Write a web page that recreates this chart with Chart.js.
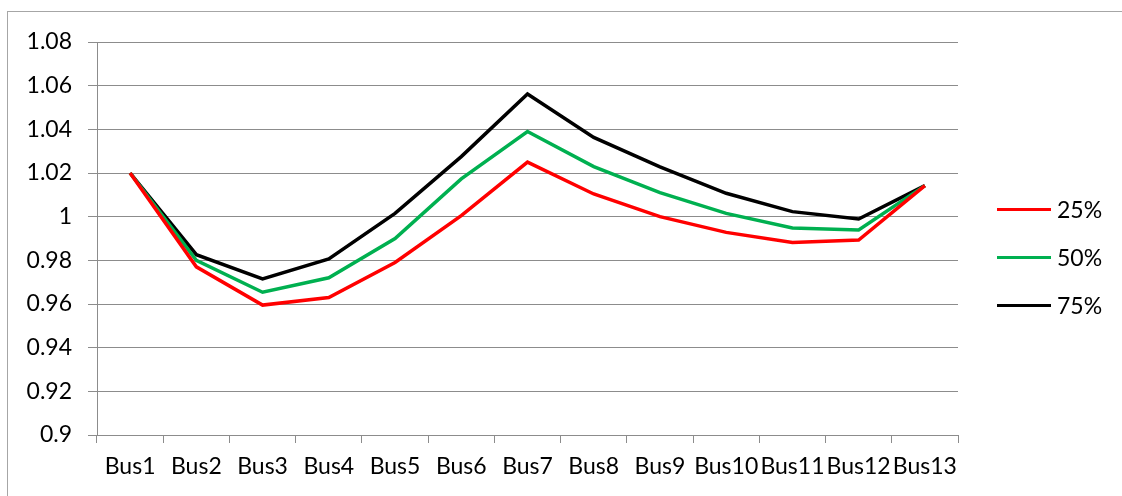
<!DOCTYPE html>
<html>
<head>
<meta charset="utf-8">
<script src="https://cdn.jsdelivr.net/npm/chart.js@4/dist/chart.umd.min.js"></script>
<style>
  html, body { margin: 0; padding: 0; background: #fff; }
  #wrap { position: relative; width: 1122px; height: 496px; overflow: hidden; }
  #frame { position: absolute; left: 7px; top: 11px; width: 1200px; height: 600px; border: 1px solid #a6a6a6; box-sizing: border-box; }
  #chart { position: absolute; left: 0; top: 0; }
  #legend { position: absolute; left: 997px; top: 185px; font-family: Lato, Roboto, sans-serif; font-size: 23px; color: #000; }
  .item { display: flex; align-items: center; height: 48px; }
  .swatch { width: 54px; height: 3px; margin-right: 6px; }
</style>
</head>
<body>
<div id="wrap">
  <div id="frame"></div>
  <canvas id="chart" width="1122" height="496"></canvas>
  <div id="legend"></div>
</div>
<script>
// categories and series
const buses = ['Bus1', 'Bus2', 'Bus3', 'Bus4', 'Bus5', 'Bus6', 'Bus7', 'Bus8', 'Bus9', 'Bus10', 'Bus11', 'Bus12', 'Bus13'];
const load25 = [1.020, 0.977, 0.9595, 0.963, 0.979, 1.0005, 1.025, 1.0104, 1.0000, 0.9928, 0.9882, 0.9893, 1.0142];
const load50 = [1.020, 0.980, 0.9654, 0.972, 0.990, 1.0173, 1.039, 1.0229, 1.0110, 1.0015, 0.9948, 0.9939, 1.0142];
const load75 = [1.020, 0.9826, 0.9715, 0.9806, 1.0015, 1.0275, 1.0562, 1.0363, 1.0228, 1.0107, 1.0023, 0.9989, 1.0142];
const seriesNames = ['25%', '50%', '75%'];
const seriesColors = ['#ff0000', '#00b050', '#000000'];
const yTicks = [0.9, 0.92, 0.94, 0.96, 0.98, 1, 1.02, 1.04, 1.06, 1.08];

const FONT = { family: 'Lato, Roboto, sans-serif', size: 23 };
const GRID = '#8c8c8c';

function makeSet(label, data, color) {
    return {
        label: label,
        data: data,
        borderColor: color,
        backgroundColor: color,
        borderWidth: 3.5,
        pointRadius: 0,
        tension: 0,
        fill: false
    };
}

const ctx = document.getElementById('chart').getContext('2d');
new Chart(ctx, {
    type: 'line',
    data: {
        labels: buses,
        datasets: [
            makeSet(seriesNames[0], load25, seriesColors[0]),
            makeSet(seriesNames[1], load50, seriesColors[1]),
            makeSet(seriesNames[2], load75, seriesColors[2])
        ]
    },
    options: {
        responsive: false,
        animation: false,
        layout: { padding: { left: 0, top: 42, right: 164, bottom: 0 } },
        plugins: {
            legend: { display: false },
            tooltip: { enabled: false }
        },
        scales: {
            x: {
                offset: true,
                grid: { offset: true, drawOnChartArea: false, color: GRID, tickLength: 8, tickColor: GRID },
                border: { color: GRID, width: 1 },
                ticks: { color: '#000', font: FONT, maxRotation: 0, autoSkip: false, padding: 10 },
                afterFit: (s) => { s.height = 496 - 435; }
            },
            y: {
                min: 0.9,
                max: 1.08,
                afterBuildTicks: (s) => { s.ticks = yTicks.map(v => ({ value: v })); },
                grid: { color: GRID, tickLength: 9, tickColor: GRID },
                border: { color: GRID, width: 1 },
                ticks: { color: '#000', font: FONT, padding: 16, callback: (v) => String(+v.toFixed(2)) },
                afterFit: (s) => { s.width = 97; }
            }
        }
    }
});

// legend on the right
const legend = document.getElementById('legend');
seriesNames.forEach((name, i) => {
    const row = document.createElement('div');
    row.className = 'item';
    row.innerHTML = '<div class="swatch" style="background:' + seriesColors[i] + '"></div><span>' + name + '</span>';
    legend.appendChild(row);
});
</script>
</body>
</html>
